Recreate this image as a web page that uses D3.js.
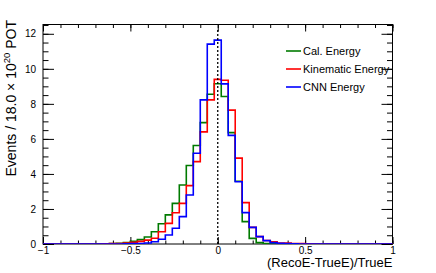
<!DOCTYPE html>
<html>
<head>
<meta charset="utf-8">
<script src="https://cdn.jsdelivr.net/npm/d3@7"></script>
<style>
  body { margin: 0; background: #fff; }
  svg text { font-family: "Liberation Sans", Arial, Helvetica, sans-serif; }
</style>
</head>
<body>
<svg id="chart" width="436" height="273"></svg>
<script>
// bins are 0.04 wide, centred on -1.00, -0.96, ... , 1.00
var binStart = -1.02, binWidth = 0.04;

var calEnergy = [0,0,0,0,0,0,0,0,0,0,
  0.02,0.04,0.08,0.15,0.25,0.40,0.70,1.16,1.66,2.32,
  3.37,4.48,5.62,6.93,8.55,9.15,8.42,6.36,3.58,1.28,
  0.32,0.08,0.03,0.01,0,0,0,0,0,0,
  0,0,0,0,0,0,0,0,0,0,0];
var kinEnergy = [0,0,0,0,0,0,0,0,0,0.01,
  0.02,0.03,0.06,0.10,0.15,0.22,0.33,0.70,1.18,1.78,
  2.32,3.33,4.70,6.40,8.23,9.40,9.35,7.64,4.90,2.36,
  0.95,0.42,0.20,0.12,0.06,0.05,0.03,0.02,0.01,0,
  0,0,0,0,0,0,0,0,0,0,0];
var cnnEnergy = [0,0,0,0,0,0,0,0,0,0,
  0,0,0.01,0.02,0.03,0.06,0.13,0.27,0.51,0.90,
  1.56,2.80,5.18,8.23,11.41,11.64,9.14,6.20,3.55,1.79,
  0.95,0.42,0.19,0.08,0.04,0.02,0.01,0,0,0,
  0,0,0,0,0,0,0,0,0,0,0];

var seriesNames = ["Cal. Energy", "Kinematic Energy", "CNN Energy"];
var seriesColors = ["#007a00", "#ff0000", "#0000ff"];

var xMajor = [-1, -0.5, 0, 0.5, 1];
var xLabels = ["\u22121", "\u22120.5", "0", "0.5", "1"];
var yMajor = [0, 2, 4, 6, 8, 10, 12];

var svg = d3.select("#chart"),
    frame = {left: 43, right: 392.5, top: 24.5, bottom: 244};

var x = d3.scaleLinear().domain([-1, 1]).range([frame.left, frame.right]);
var y = d3.scaleLinear().domain([0, 12.53]).range([frame.bottom, frame.top]);

svg.append("clipPath").attr("id", "clip")
  .append("rect")
    .attr("x", frame.left).attr("y", frame.top)
    .attr("width", frame.right - frame.left)
    .attr("height", frame.bottom - frame.top);

// axes + ticks (all inward, ROOT style)
var xMinor = d3.range(-1, 1.0001, 0.1).map(function(d) { return +d.toFixed(2); });
var yMinor = d3.range(0, 12.51, 0.5);

function tickLine(g) { g.select(".domain").remove(); g.selectAll("line").attr("stroke", "#000"); }

svg.append("g").attr("transform", "translate(0," + frame.bottom + ")")
  .call(d3.axisBottom(x).tickValues(xMinor).tickSizeInner(-3.5).tickSizeOuter(0).tickFormat(""))
  .call(tickLine);
svg.append("g").attr("transform", "translate(0," + frame.bottom + ")")
  .call(d3.axisBottom(x).tickValues(xMajor).tickSizeInner(-7).tickSizeOuter(0).tickPadding(3)
        .tickFormat(function(d, i) { return xLabels[i]; }))
  .call(tickLine)
  .selectAll("text").attr("font-size", 10).attr("fill", "#000");
svg.append("g").attr("transform", "translate(0," + frame.top + ")")
  .call(d3.axisTop(x).tickValues(xMinor).tickSizeInner(-3.5).tickSizeOuter(0).tickFormat(""))
  .call(tickLine);
svg.append("g").attr("transform", "translate(0," + frame.top + ")")
  .call(d3.axisTop(x).tickValues(xMajor).tickSizeInner(-7).tickSizeOuter(0).tickFormat(""))
  .call(tickLine);

svg.append("g").attr("transform", "translate(" + frame.left + ",0)")
  .call(d3.axisLeft(y).tickValues(yMinor).tickSizeInner(-5.5).tickSizeOuter(0).tickFormat(""))
  .call(tickLine);
svg.append("g").attr("transform", "translate(" + frame.left + ",0)")
  .call(d3.axisLeft(y).tickValues(yMajor).tickSizeInner(-11).tickSizeOuter(0).tickPadding(7))
  .call(tickLine)
  .selectAll("text").attr("font-size", 10).attr("fill", "#000");
svg.append("g").attr("transform", "translate(" + frame.right + ",0)")
  .call(d3.axisRight(y).tickValues(yMinor).tickSizeInner(-5.5).tickSizeOuter(0).tickFormat(""))
  .call(tickLine);
svg.append("g").attr("transform", "translate(" + frame.right + ",0)")
  .call(d3.axisRight(y).tickValues(yMajor).tickSizeInner(-11).tickSizeOuter(0).tickFormat(""))
  .call(tickLine);

svg.append("rect")
  .attr("x", frame.left).attr("y", frame.top)
  .attr("width", frame.right - frame.left).attr("height", frame.bottom - frame.top)
  .attr("fill", "none").attr("stroke", "#000").attr("stroke-width", 1);

// histograms
var stepLine = d3.line()
  .x(function(d) { return x(d[0]); })
  .y(function(d) { return y(d[1]); })
  .curve(d3.curveStepAfter);

var plot = svg.append("g").attr("clip-path", "url(#clip)");

[calEnergy, kinEnergy, cnnEnergy].forEach(function(vals, s) {
  var pts = vals.map(function(v, i) { return [binStart + i * binWidth, v]; });
  pts.push([binStart + vals.length * binWidth, vals[vals.length - 1]]);
  plot.append("path")
    .attr("d", stepLine(pts))
    .attr("fill", "none")
    .attr("stroke", seriesColors[s])
    .attr("stroke-width", 1.6);
});

// dashed line at zero
plot.append("line")
  .attr("x1", x(0)).attr("x2", x(0))
  .attr("y1", y(0)).attr("y2", y(12.3))
  .attr("stroke", "#000").attr("stroke-width", 1.3)
  .attr("stroke-dasharray", "2,2");

// legend
var legend = svg.append("g");
seriesNames.forEach(function(name, i) {
  var ly = 51 + i * 18;
  legend.append("line")
    .attr("x1", 286).attr("x2", 301).attr("y1", ly).attr("y2", ly)
    .attr("stroke", seriesColors[i]).attr("stroke-width", 1.6);
  legend.append("text")
    .attr("x", 303).attr("y", ly + 4)
    .attr("font-size", 11)
    .text(name);
});

// titles
svg.append("text")
  .attr("x", frame.right).attr("y", 267)
  .attr("text-anchor", "end").attr("font-size", 13)
  .text("(RecoE-TrueE)/TrueE");

var yt = svg.append("text")
  .attr("transform", "translate(15.5,20) rotate(-90)")
  .attr("text-anchor", "end").attr("font-size", 14);
yt.append("tspan").text("Events / 18.0 \u00d7 10");
yt.append("tspan").attr("dy", -5.5).attr("font-size", 9.5).text("20");
yt.append("tspan").attr("dy", 5.5).text(" POT");
</script>
</body>
</html>
